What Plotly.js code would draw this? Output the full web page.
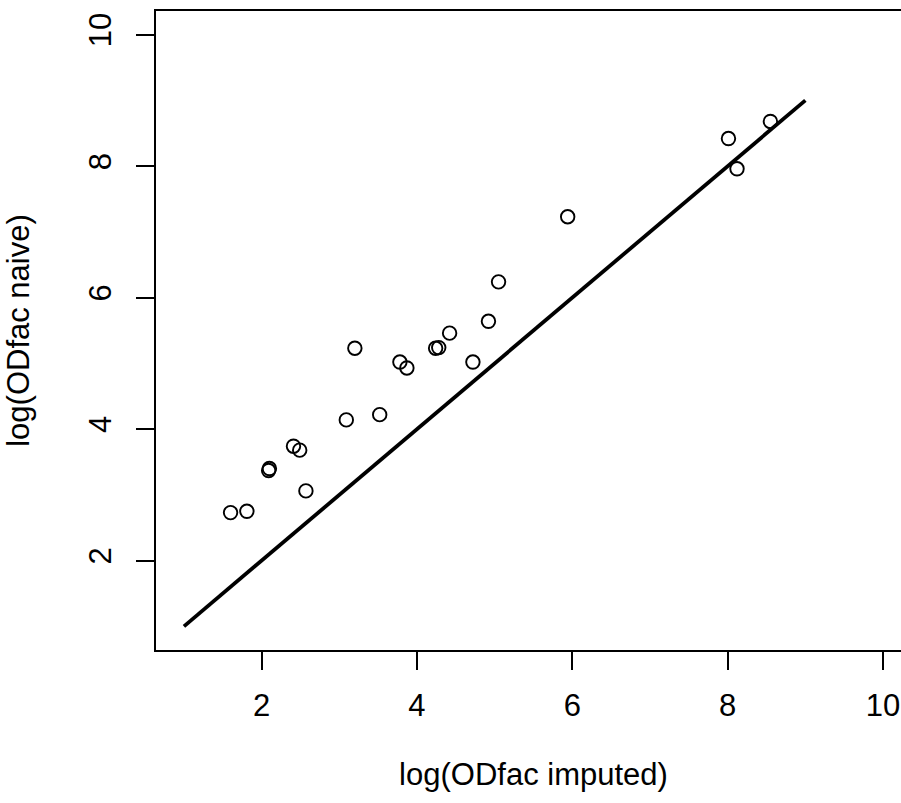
<!DOCTYPE html>
<html>
<head>
<meta charset="utf-8">
<script src="https://cdn.plot.ly/plotly-3.0.1.min.js"></script>
<style>
html, body { margin: 0; padding: 0; overflow: hidden; background: #fff; }
#chart { width: 960px; height: 803px; }
</style>
</head>
<body>
<div id="chart"></div>
<script>
// Data
const odfacImputed = [1.60, 1.81, 2.09, 2.10, 2.41, 2.49, 2.57, 3.09, 3.52, 3.20, 3.78, 3.87, 4.24, 4.28, 4.42, 4.72, 4.92, 5.05, 5.94, 8.01, 8.12, 8.55];
const odfacNaive   = [2.73, 2.75, 3.37, 3.40, 3.74, 3.68, 3.06, 4.14, 4.22, 5.23, 5.02, 4.93, 5.23, 5.24, 5.46, 5.02, 5.64, 6.24, 7.23, 8.42, 7.96, 8.68];
const identityX = [1, 9];
const identityY = [1, 9];
const tickValues = [2, 4, 6, 8, 10];
const tickLabels = ["2", "4", "6", "8", "10"];
const xTitle = "log(ODfac imputed)";
const yTitle = "log(ODfac naive)";

const fontFam = "Liberation Sans, Arial, Helvetica, sans-serif";
const fs = 31;

const traces = [
  {
    x: identityX, y: identityY, type: "scatter", mode: "lines",
    line: { color: "#000", width: 3.8 }, hoverinfo: "skip", showlegend: false
  },
  {
    x: odfacImputed, y: odfacNaive, type: "scatter", mode: "markers",
    marker: { symbol: "circle-open", size: 13.5, color: "#000", line: { color: "#000", width: 1.9 } },
    showlegend: false
  }
];

const axisCommon = {
  tickmode: "array", tickvals: tickValues, ticktext: tickLabels,
  ticks: "outside", ticklen: 18, tickwidth: 1.9, tickcolor: "#000",
  showline: true, linecolor: "#000", linewidth: 1.9, mirror: true,
  showgrid: false, zeroline: false,
  tickfont: { family: fontFam, size: fs, color: "#000" }
};

const layout = {
  width: 960, height: 803,
  margin: { l: 156, r: 49, t: 11, b: 153, pad: 0 },
  paper_bgcolor: "#fff", plot_bgcolor: "#fff",
  font: { family: fontFam, size: fs, color: "#000" },
  xaxis: Object.assign({}, axisCommon, {
    range: [0.64, 10.36],
    ticklabelstandoff: 9,
    title: { text: xTitle, font: { family: fontFam, size: fs, color: "#000" }, standoff: 41 }
  }),
  yaxis: Object.assign({}, axisCommon, {
    range: [0.64, 10.36],
    tickangle: -90,
    ticklabelstandoff: 13,
    title: { text: yTitle, font: { family: fontFam, size: fs, color: "#000" }, standoff: 44 }
  })
};

Plotly.newPlot("chart", traces, layout, { staticPlot: true, displayModeBar: false });
</script>
</body>
</html>
